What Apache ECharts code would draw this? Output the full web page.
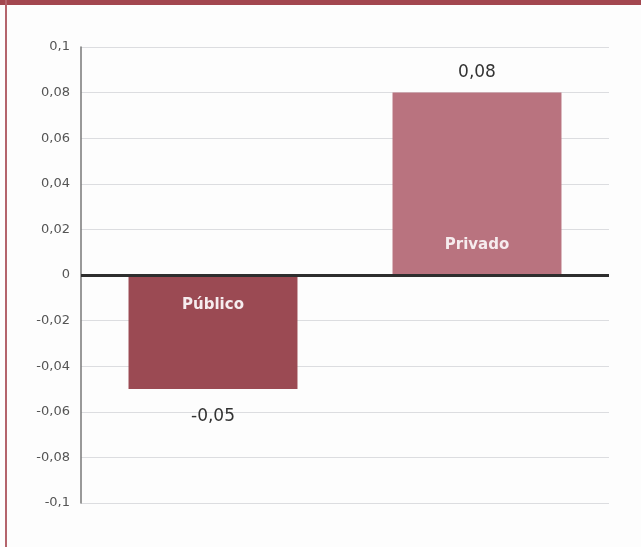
<!DOCTYPE html>
<html>
<head>
<meta charset="utf-8">
<script src="https://cdn.jsdelivr.net/npm/echarts@6/dist/echarts.min.js"></script>
<style>
html, body { margin: 0; padding: 0; background: #fdfdfd; }
#topbar { position: absolute; left: 0; top: 0; width: 641px; height: 5px; background: #a3474f; }
#leftline { position: absolute; left: 5px; top: 0; width: 2px; height: 547px; background: #b4646c; }
#main { position: absolute; left: 0; top: 0; width: 641px; height: 547px; }
</style>
</head>
<body>
<div id="main"></div>
<div id="topbar"></div>
<div id="leftline"></div>
<script>
// categorias e valores
var categories = ['Público', 'Privado'];
var values = [-0.05, 0.08];
var barColors = ['#9b4a53', '#b9737f'];

function fmt(v) {
  return String(Math.round(v * 100) / 100).replace('.', ',');
}

var chart = echarts.init(document.getElementById('main'));

var nameData = [];
var valueData = [];
for (var i = 0; i < values.length; i++) {
  var neg = values[i] < 0;
  nameData.push({
    value: values[i],
    itemStyle: { color: barColors[i] },
    label: {
      position: neg ? 'insideTop' : 'insideBottom',
      distance: neg ? 23 : 22
    }
  });
  valueData.push({
    value: values[i],
    label: {
      position: neg ? 'bottom' : 'top',
      distance: neg ? 19 : 12
    }
  });
}

chart.setOption({
  animation: false,
  grid: { left: 81, right: 32, top: 47, bottom: 44 },
  xAxis: {
    type: 'category',
    data: categories,
    axisLine: { show: false },
    axisTick: { show: false },
    axisLabel: { show: false }
  },
  yAxis: {
    type: 'value',
    min: -0.1,
    max: 0.1,
    interval: 0.02,
    axisLine: { show: true, onZero: false, lineStyle: { color: '#777', width: 1.5 } },
    axisTick: { show: false },
    axisLabel: {
      formatter: fmt,
      color: '#555',
      fontSize: 13,
      fontFamily: 'DejaVu Sans',
      margin: 11
    },
    splitLine: { lineStyle: { color: '#dcdde0', width: 1 } }
  },
  series: [{
    type: 'bar',
    data: nameData,
    barWidth: '64%',
    label: {
      show: true,
      formatter: function (p) { return p.name; },
      color: '#f6ecee',
      fontSize: 15,
      fontWeight: 'bold',
      fontFamily: 'DejaVu Sans'
    },
    markLine: {
      silent: true,
      symbol: 'none',
      label: { show: false },
      lineStyle: { color: '#2e2e2e', width: 3, type: 'solid' },
      data: [{ yAxis: 0 }]
    }
  }, {
    type: 'bar',
    data: valueData,
    barWidth: '64%',
    barGap: '-100%',
    itemStyle: { color: 'rgba(0,0,0,0)' },
    label: {
      show: true,
      formatter: function (p) { return fmt(p.value); },
      color: '#333',
      fontSize: 17,
      fontFamily: 'DejaVu Sans'
    }
  }]
});
</script>
</body>
</html>
